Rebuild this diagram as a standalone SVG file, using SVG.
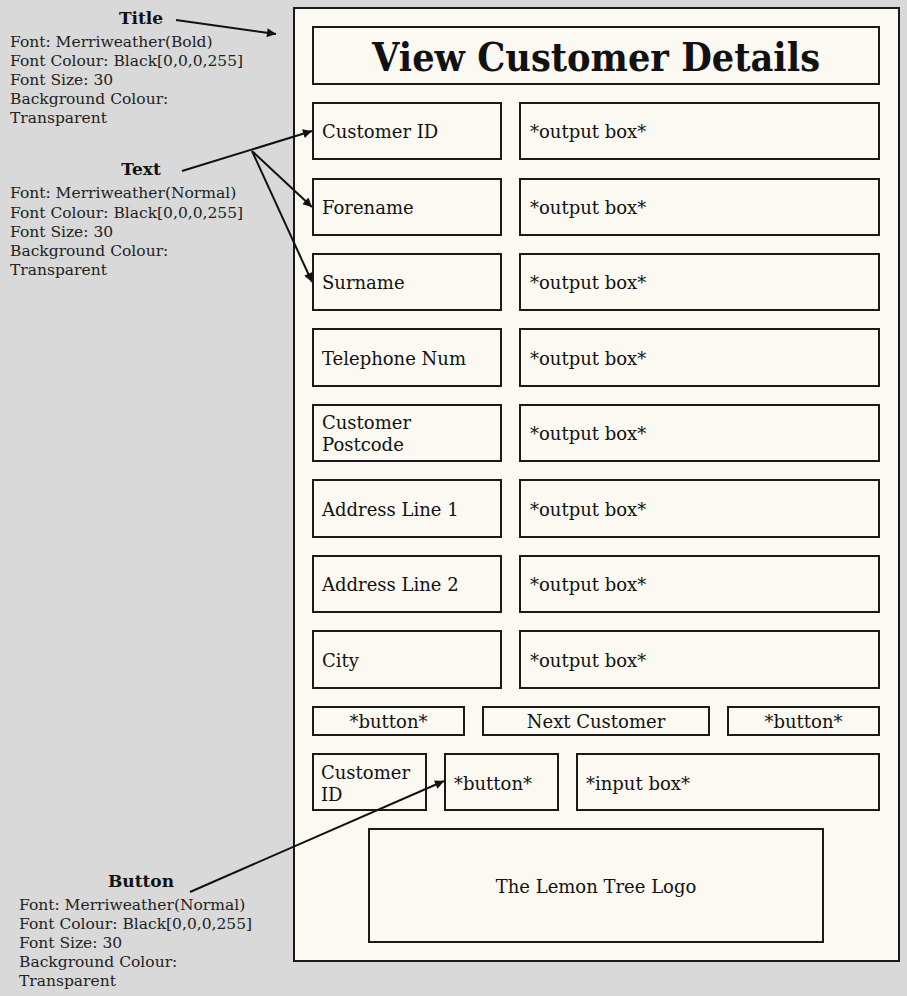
<svg xmlns="http://www.w3.org/2000/svg" width="907" height="996" viewBox="0 0 907 996">
<style>
.bx{fill:#fcf9f2;stroke:#1a1a1a;stroke-width:2}
.t{font-family:"DejaVu Serif","Liberation Serif",serif;font-size:18px;fill:#111}
.c{text-anchor:middle}
.note{font-family:"DejaVu Serif","Liberation Serif",serif;font-size:15.5px;fill:#222}
.h{font-family:"DejaVu Serif","Liberation Serif",serif;font-size:17px;font-weight:bold;fill:#111;text-anchor:middle}
.ttl{font-family:"DejaVu Serif","Liberation Serif",serif;font-size:39px;font-weight:bold;fill:#111;text-anchor:middle}
.ln{stroke:#111;stroke-width:2;fill:none}
</style>
<defs>
<marker id="ah" viewBox="0 0 10 10" refX="10" refY="5" markerWidth="11" markerHeight="9" markerUnits="userSpaceOnUse" orient="auto"><path d="M0,0 L10,5 L0,10 z" fill="#111"/></marker>
</defs>
<rect width="907" height="996" fill="#d9d9d9"/>
<g id="frame"><rect class="bx" x="294" y="8" width="605" height="953"/></g>
<g id="title"><rect class="bx" x="313" y="27" width="566" height="57"/><text class="ttl" x="596" y="71" textLength="448" lengthAdjust="spacingAndGlyphs">View Customer Details</text></g>

<g id="lbl-custid"><rect class="bx" x="313" y="103" width="188" height="56"/><text class="t" x="322" y="138">Customer ID</text></g>
<g id="out-1"><rect class="bx" x="520" y="103" width="359" height="56"/><text class="t" x="530" y="138">*output box*</text></g>
<g id="lbl-forename"><rect class="bx" x="313" y="179" width="188" height="56"/><text class="t" x="322" y="214">Forename</text></g>
<g id="out-2"><rect class="bx" x="520" y="179" width="359" height="56"/><text class="t" x="530" y="214">*output box*</text></g>
<g id="lbl-surname"><rect class="bx" x="313" y="254" width="188" height="56"/><text class="t" x="322" y="289">Surname</text></g>
<g id="out-3"><rect class="bx" x="520" y="254" width="359" height="56"/><text class="t" x="530" y="289">*output box*</text></g>
<g id="lbl-tel"><rect class="bx" x="313" y="329" width="188" height="57"/><text class="t" x="322" y="365">Telephone Num</text></g>
<g id="out-4"><rect class="bx" x="520" y="329" width="359" height="57"/><text class="t" x="530" y="365">*output box*</text></g>
<g id="lbl-postcode"><rect class="bx" x="313" y="405" width="188" height="56"/><text class="t" x="322" y="429">Customer</text><text class="t" x="322" y="451">Postcode</text></g>
<g id="out-5"><rect class="bx" x="520" y="405" width="359" height="56"/><text class="t" x="530" y="440">*output box*</text></g>
<g id="lbl-addr1"><rect class="bx" x="313" y="480" width="188" height="57"/><text class="t" x="322" y="516">Address Line 1</text></g>
<g id="out-6"><rect class="bx" x="520" y="480" width="359" height="57"/><text class="t" x="530" y="516">*output box*</text></g>
<g id="lbl-addr2"><rect class="bx" x="313" y="556" width="188" height="56"/><text class="t" x="322" y="591">Address Line 2</text></g>
<g id="out-7"><rect class="bx" x="520" y="556" width="359" height="56"/><text class="t" x="530" y="591">*output box*</text></g>
<g id="lbl-city"><rect class="bx" x="313" y="631" width="188" height="57"/><text class="t" x="322" y="667">City</text></g>
<g id="out-8"><rect class="bx" x="520" y="631" width="359" height="57"/><text class="t" x="530" y="667">*output box*</text></g>

<g id="btn-1"><rect class="bx" x="313" y="707" width="151" height="28"/><text class="t c" x="388.5" y="728">*button*</text></g>
<g id="btn-next"><rect class="bx" x="483" y="707" width="226" height="28"/><text class="t c" x="596" y="728">Next Customer</text></g>
<g id="btn-2"><rect class="bx" x="728" y="707" width="151" height="28"/><text class="t c" x="803.5" y="728">*button*</text></g>

<g id="lbl-custid2"><rect class="bx" x="313" y="754" width="113" height="56"/><text class="t" x="321" y="779">Customer</text><text class="t" x="321" y="801">ID</text></g>
<g id="btn-3"><rect class="bx" x="445" y="754" width="113" height="56"/><text class="t" x="454" y="790">*button*</text></g>
<g id="input"><rect class="bx" x="577" y="754" width="302" height="56"/><text class="t" x="586" y="790">*input box*</text></g>
<g id="logo"><rect class="bx" x="369" y="829" width="454" height="113"/><text class="t c" x="596" y="893">The Lemon Tree Logo</text></g>

<g id="note-title"><text class="h" x="141" y="24">Title</text>
<text class="note" x="10" y="47">Font: Merriweather(Bold)</text>
<text class="note" x="10" y="66">Font Colour: Black[0,0,0,255]</text>
<text class="note" x="10" y="85">Font Size: 30</text>
<text class="note" x="10" y="104">Background Colour:</text>
<text class="note" x="10" y="123">Transparent</text></g>
<g id="note-text"><text class="h" x="141" y="175">Text</text>
<text class="note" x="10" y="198">Font: Merriweather(Normal)</text>
<text class="note" x="10" y="218">Font Colour: Black[0,0,0,255]</text>
<text class="note" x="10" y="237">Font Size: 30</text>
<text class="note" x="10" y="256">Background Colour:</text>
<text class="note" x="10" y="275">Transparent</text></g>
<g id="note-button"><text class="h" x="141" y="887">Button</text>
<text class="note" x="19" y="910">Font: Merriweather(Normal)</text>
<text class="note" x="19" y="929">Font Colour: Black[0,0,0,255]</text>
<text class="note" x="19" y="948">Font Size: 30</text>
<text class="note" x="19" y="967">Background Colour:</text>
<text class="note" x="19" y="986">Transparent</text></g>

<g id="connectors">
<line class="ln" x1="176" y1="20" x2="276" y2="34" marker-end="url(#ah)"/>
<line class="ln" x1="182" y1="171" x2="312" y2="131" marker-end="url(#ah)"/>
<line class="ln" x1="252" y1="151" x2="312" y2="207" marker-end="url(#ah)"/>
<line class="ln" x1="252" y1="151" x2="312" y2="282" marker-end="url(#ah)"/>
<line class="ln" x1="190" y1="892" x2="444" y2="781" marker-end="url(#ah)"/>
</g>
</svg>
